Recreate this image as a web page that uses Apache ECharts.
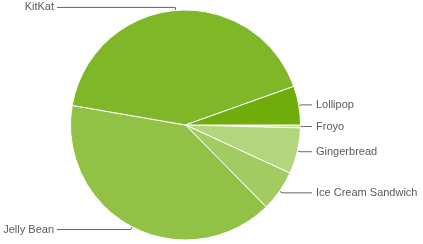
<!DOCTYPE html>
<html>
<head>
<meta charset="utf-8">
<style>html,body{margin:0;padding:0;background:#fff}#c{width:423px;height:244px}</style>
<script src="https://cdn.jsdelivr.net/npm/echarts@6/dist/echarts.min.js"></script>
</head>
<body>
<div id="c"></div>
<script>
const categories = ["Froyo", "Gingerbread", "Ice Cream Sandwich", "Jelly Bean", "KitKat", "Lollipop"];
const values = [0.4, 6.4, 5.7, 39.7, 41.4, 5.4];
const colors = ["#c4df9b", "#b3d57e", "#a2cb62", "#91c145", "#80b729", "#6fad0c"];

const CX = 185.5, CY = 125, R = 115;
const total = values.reduce((a, b) => a + b, 0);
function midAngle(i) {
  let s = 0;
  for (let k = 0; k < i; k++) s += values[k];
  return (s + values[i] / 2) / total * 2 * Math.PI;
}
const chart = echarts.init(document.getElementById('c'), null, {renderer: 'canvas'});
chart.setOption({
  animation: false,
  series: [{
    type: 'pie',
    center: [CX, CY],
    radius: [0, R],
    startAngle: 0,
    clockwise: true,
    avoidLabelOverlap: false,
    data: categories.map((n, i) => ({name: n, value: values[i], itemStyle: {color: colors[i]}})),
    itemStyle: {borderColor: '#fff', borderWidth: 1},
    label: {show: true, position: 'outside', formatter: '{b}', color: '#5a5a5a', fontFamily: 'Liberation Sans, Arial, sans-serif', fontSize: 11},
    labelLine: {show: true, length: 5, length2: 5, smooth: false, lineStyle: {color: '#666', width: 1}},
    emphasis: {disabled: true},
    labelLayout: function (p) {
      const a = midAngle(p.dataIndex);
      const c = Math.cos(a), s = Math.sin(a);
      const e = [CX + R * c, CY + R * s];
      const k = [CX + (R + 3) * c, CY + (R + 3) * s];
      const right = c > 0;
      const y = k[1];
      const endX = right ? CX + 126.5 : CX - 128.5;
      return {
        x: right ? endX + 4 : endX - 3,
        y: y,
        align: right ? 'left' : 'right',
        verticalAlign: 'middle',
        labelLinePoints: [e, [k[0], y], [endX, y]]
      };
    }
  }]
});
</script>
</body>
</html>
